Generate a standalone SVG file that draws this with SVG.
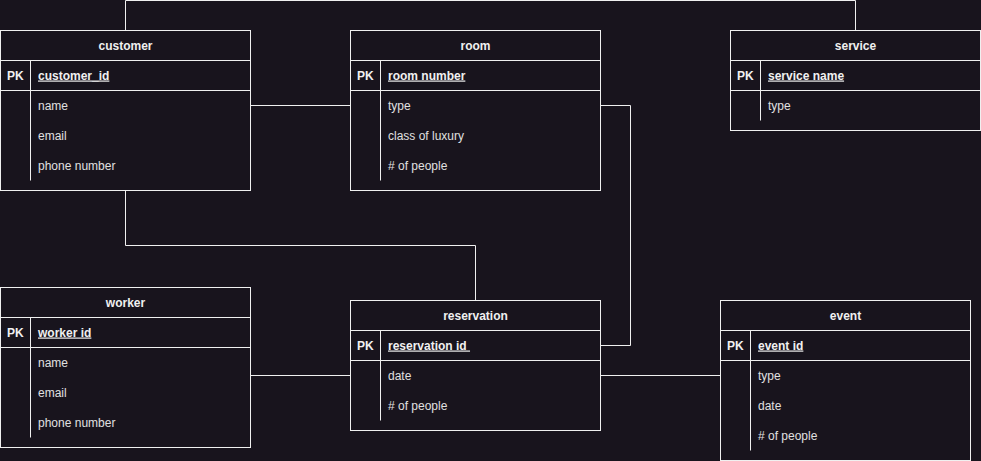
<svg xmlns="http://www.w3.org/2000/svg" width="981" height="461" viewBox="0 0 981 461">
<style>
.bg{fill:#18141d}
.box{fill:#18141d;stroke:#f0f0f0;stroke-width:1}
.ln{fill:none;stroke:#f0f0f0;stroke-width:1}
.h{font-family:"Liberation Sans",Arial,sans-serif;font-size:12px;font-weight:bold;fill:#f0f0f0;text-anchor:middle}
.pk{font-family:"Liberation Sans",Arial,sans-serif;font-size:12px;font-weight:bold;fill:#f0f0f0}
.pkn{font-family:"Liberation Sans",Arial,sans-serif;font-size:12px;font-weight:bold;fill:#f0f0f0;text-decoration:underline}
.f{font-family:"Liberation Sans",Arial,sans-serif;font-size:12px;fill:#e0e0e0}
</style>
<rect class="bg" x="0" y="0" width="981" height="461"/>
<g id="connectors">
<path class="ln" d="M125.5 30.5 V0.5 H855.5 V30.5"/>
<path class="ln" d="M250.5 105.5 H350.5"/>
<path class="ln" d="M125.5 190.5 V245.5 H475.5 V300.5"/>
<path class="ln" d="M600.5 105.5 H630.5 V345.5 H600.5"/>
<path class="ln" d="M248.5 375.5 H350.5"/>
<path class="ln" d="M600.5 375.5 H720.5"/>
</g>
<g id="customer">
<rect class="box" x="0.5" y="30.5" width="250" height="160"/>
<path class="ln" d="M0.5 60.5 H250.5 M0.5 90.5 H250.5 M30.5 60.5 V180.5"/>
<text class="h" x="125.5" y="49.5">customer</text>
<text class="pk" x="7" y="79.5">PK</text>
<text class="pkn" x="38" y="79.5">customer_id</text>
<text class="f" x="38" y="109.5">name</text>
<text class="f" x="38" y="139.5">email</text>
<text class="f" x="38" y="169.5">phone number</text>
</g>
<g id="room">
<rect class="box" x="350.5" y="30.5" width="250" height="160"/>
<path class="ln" d="M350.5 60.5 H600.5 M350.5 90.5 H600.5 M380.5 60.5 V180.5"/>
<text class="h" x="475.5" y="49.5">room</text>
<text class="pk" x="357" y="79.5">PK</text>
<text class="pkn" x="388" y="79.5">room number</text>
<text class="f" x="388" y="109.5">type</text>
<text class="f" x="388" y="139.5">class of luxury</text>
<text class="f" x="388" y="169.5"># of people</text>
</g>
<g id="service">
<rect class="box" x="730.5" y="30.5" width="250" height="100"/>
<path class="ln" d="M730.5 60.5 H980.5 M730.5 90.5 H980.5 M760.5 60.5 V120.5"/>
<text class="h" x="855.5" y="49.5">service</text>
<text class="pk" x="737" y="79.5">PK</text>
<text class="pkn" x="768" y="79.5">service name</text>
<text class="f" x="768" y="109.5">type</text>
</g>
<g id="worker">
<rect class="box" x="0.5" y="287.5" width="250" height="160"/>
<path class="ln" d="M0.5 317.5 H250.5 M0.5 347.5 H250.5 M30.5 317.5 V437.5"/>
<text class="h" x="125.5" y="306.5">worker</text>
<text class="pk" x="7" y="336.5">PK</text>
<text class="pkn" x="38" y="336.5">worker id</text>
<text class="f" x="38" y="366.5">name</text>
<text class="f" x="38" y="396.5">email</text>
<text class="f" x="38" y="426.5">phone number</text>
</g>
<g id="reservation">
<rect class="box" x="350.5" y="300.5" width="250" height="130"/>
<path class="ln" d="M350.5 330.5 H600.5 M350.5 360.5 H600.5 M380.5 330.5 V420.5"/>
<text class="h" x="475.5" y="319.5">reservation</text>
<text class="pk" x="357" y="349.5">PK</text>
<text class="pkn" x="388" y="349.5" xml:space="preserve">reservation id </text>
<text class="f" x="388" y="379.5">date</text>
<text class="f" x="388" y="409.5"># of people</text>
</g>
<g id="event">
<rect class="box" x="720.5" y="300.5" width="250" height="160"/>
<path class="ln" d="M720.5 330.5 H970.5 M720.5 360.5 H970.5 M750.5 330.5 V450.5"/>
<text class="h" x="845.5" y="319.5">event</text>
<text class="pk" x="727" y="349.5">PK</text>
<text class="pkn" x="758" y="349.5">event id</text>
<text class="f" x="758" y="379.5">type</text>
<text class="f" x="758" y="409.5">date</text>
<text class="f" x="758" y="439.5"># of people</text>
</g>
</svg>
